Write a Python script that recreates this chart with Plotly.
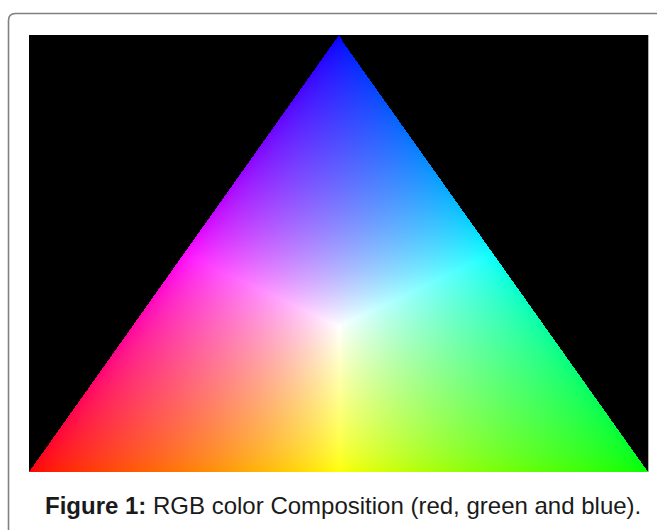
import numpy as np
import plotly.graph_objects as go

# ---- data ----
corner_names = ["red", "green", "blue"]
corner_rgb = [[255, 0, 0], [0, 255, 0], [0, 0, 255]]
corner_x = [0.0, 1.0, 0.5]
corner_y = [0.0, 0.0, 1.0]
caption_label = "Figure 1:"
caption_text = "RGB color Composition (red, green and blue)."

# ---- build the colour composition image from the corner definitions ----
W, H = 620, 437
xs = (np.arange(W) + 0.5) / W
ys = (np.arange(H) + 0.5) / H
X, Y = np.meshgrid(xs, ys)

x1, x2, x3 = corner_x
y1, y2, y3 = corner_y
den = (y2 - y3) * (x1 - x3) + (x3 - x2) * (y1 - y3)
l1 = ((y2 - y3) * (X - x3) + (x3 - x2) * (Y - y3)) / den
l2 = ((y3 - y1) * (X - x3) + (x1 - x3) * (Y - y3)) / den
l3 = 1 - l1 - l2
lam = np.stack([l1, l2, l3], axis=-1)
inside = np.all(lam >= -1e-9, axis=-1)
lam = np.clip(lam, 0, None)
cols = np.array(corner_rgb, dtype=float) / 255.0
mix = lam @ cols
mx = mix.max(axis=-1, keepdims=True)
mx[mx == 0] = 1
rgb = (mix / mx) ** 0.65 * 255.0
rgb[~inside] = 0
img = np.clip(rgb, 0, 255).astype(np.uint8)

fig = go.Figure()
fig.add_trace(go.Image(z=img, x0=0.5 / W, dx=1.0 / W, y0=0.5 / H, dy=1.0 / H,
                       hoverinfo="skip"))

FW, FH = 657, 530
def px(x):
    return x / FW
def py(y):
    return 1 - y / FH

fig.update_layout(
    width=FW, height=FH,
    margin=dict(l=0, r=0, t=0, b=0),
    paper_bgcolor="white",
    plot_bgcolor="black",
    showlegend=False,
    xaxis=dict(domain=[29 / FW, 648 / FW], range=[0, 1], visible=False,
               autorange=False, fixedrange=True),
    yaxis=dict(domain=[(FH - 472) / FH, (FH - 35) / FH], range=[0, 1],
               visible=False, autorange=False, scaleanchor=False,
               fixedrange=True),
)

# rounded frame (top-left corner visible)
path = (f"M {px(8.5)},{py(540)} L {px(8.5)},{py(20.5)} "
        f"Q {px(8.5)},{py(13.5)} {px(15.5)},{py(13.5)} L {px(670)},{py(13.5)}")
fig.add_shape(type="path", xref="paper", yref="paper", path=path,
              line=dict(color="#808080", width=1.6), fillcolor="rgba(0,0,0,0)",
              layer="above")

# thin light edge on the right of the picture
fig.add_shape(type="line", xref="paper", yref="paper",
              x0=px(648.5), x1=px(648.5), y0=py(35), y1=py(472),
              line=dict(color="#b0b0b0", width=1), layer="above")

fig.add_annotation(
    xref="paper", yref="paper", x=px(43), y=py(505),
    xanchor="left", yanchor="middle", showarrow=False,
    text=f"<b>{caption_label}</b> {caption_text}",
    font=dict(family="Liberation Sans, Arial, sans-serif", size=24, color="#1a1a1a"),
)

fig.write_html("out.html", config={"displayModeBar": False},
               post_script="document.body.style.margin='0';")
